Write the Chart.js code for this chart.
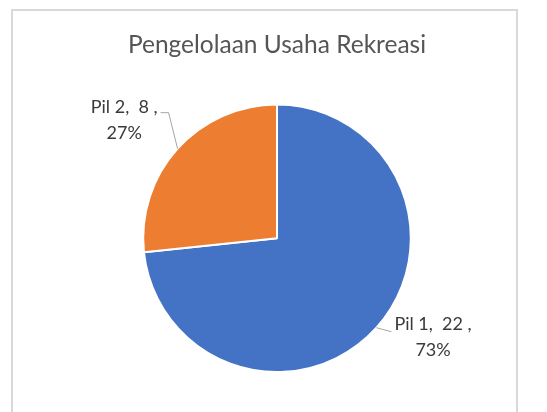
<!DOCTYPE html>
<html>
<head>
<meta charset="utf-8">
<script src="https://cdn.jsdelivr.net/npm/chart.js@4"></script>
<style>
  html, body { margin: 0; padding: 0; background: #fff; }
  #wrap { position: absolute; left: 0; top: 0; width: 547px; height: 412px; }
  #box { position: absolute; left: 11px; top: 9px; width: 503px; height: 420px;
         border: 2px solid #d9d9d9; border-bottom: none; pointer-events: none; }
</style>
</head>
<body>
<div id="wrap"><canvas id="pieCanvas"></canvas></div>
<div id="box"></div>
<script>
// donnees
const kategori = ["Pil 1", "Pil 2"];
const nilai = [22, 8];
const warna = ["#4472C4", "#ED7D31"];
const judul = "Pengelolaan Usaha Rekreasi";

// labels "Pil x,  n , p%" avec ligne de rappel
const labelPlugin = {
  id: "labelPie",
  afterDatasetsDraw(chart) {
    const ctx = chart.ctx;
    const meta = chart.getDatasetMeta(0);
    const total = nilai.reduce((a, b) => a + b, 0);
    ctx.save();
    ctx.font = "18px Lato";
    ctx.fillStyle = "#3a3a3a";
    ctx.strokeStyle = "#a6a6a6";
    ctx.lineWidth = 1;
    ctx.textBaseline = "middle";
    meta.data.forEach((arc, i) => {
      const p = arc.getProps(["x", "y", "startAngle", "endAngle", "outerRadius"], true);
      const mid = (p.startAngle + p.endAngle) / 2;
      const ex = p.x + Math.cos(mid) * p.outerRadius;
      const ey = p.y + Math.sin(mid) * p.outerRadius;
      const line1 = kategori[i] + ",  " + nilai[i] + " ,";
      const line2 = Math.round(nilai[i] / total * 100) + "%";
      const w1 = ctx.measureText(line1).width;
      let x1, y1;
      ctx.beginPath();
      if (ex < p.x) {
        const bx = ex - 9, by = ey - 36;
        ctx.moveTo(ex, ey);
        ctx.lineTo(bx, by);
        ctx.lineTo(bx - 8, by);
        x1 = bx - 11 - w1;
        y1 = by - 5;
      } else {
        ctx.moveTo(ex, ey);
        ctx.lineTo(ex + 15, ey + 4);
        x1 = ex + 18;
        y1 = ey - 4;
      }
      ctx.stroke();
      ctx.textAlign = "left";
      ctx.fillText(line1, x1, y1);
      ctx.textAlign = "center";
      ctx.fillText(line2, x1 + w1 / 2, y1 + 26);
    });
    ctx.restore();
  }
};

const pieCanvas = document.getElementById("pieCanvas");
const pieChart = new Chart(pieCanvas, {
  type: "pie",
  data: {
    labels: kategori,
    datasets: [{
      data: nilai,
      backgroundColor: warna,
      borderColor: "#ffffff",
      borderWidth: 2
    }]
  },
  options: {
    responsive: true,
    maintainAspectRatio: false,
    animation: false,
    layout: { padding: { left: 7, right: 0, top: 0, bottom: 39 } },
    plugins: {
      legend: { display: false },
      tooltip: { enabled: false },
      title: {
        display: true,
        text: judul,
        color: "#555555",
        font: { family: "Lato", size: 24.5, weight: "normal" },
        padding: { top: 30, bottom: 44 }
      }
    }
  },
  plugins: [labelPlugin]
});
</script>
</body>
</html>
